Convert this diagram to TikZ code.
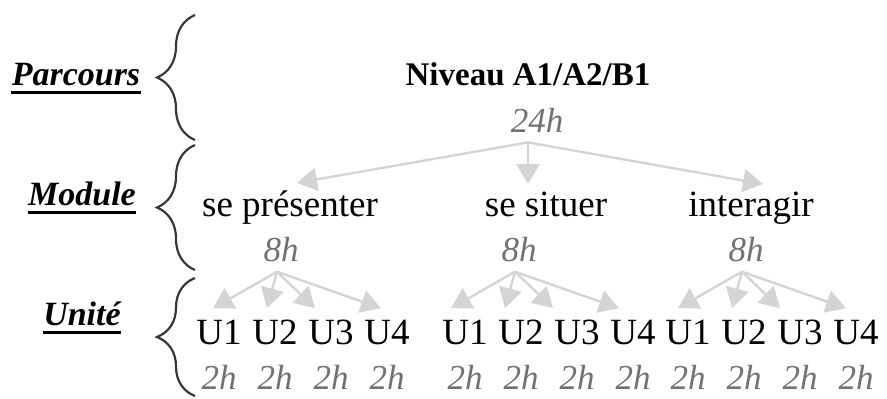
\documentclass[tikz,border=0pt]{standalone}
\usepackage{fontspec}
\setmainfont{Liberation Serif}
\usepackage{xcolor}
\usetikzlibrary{positioning,arrows.meta,decorations.pathreplacing}

\definecolor{hourgray}{RGB}{112,112,118}
\definecolor{arrowgray}{RGB}{212,212,212}
\definecolor{bracegray}{RGB}{55,55,55}

\begin{document}
\begin{tikzpicture}[
  x=0.5pt, y=-0.5pt,
  >={Triangle[length=10pt,width=11.5pt]},
  lvl/.style={anchor=base,inner sep=0pt,font=\fontsize{17}{20}\selectfont\bfseries\itshape},
  uline/.style={line width=1.5pt},
  curly/.style={decorate,decoration={brace,amplitude=19pt},draw=bracegray,line width=1.1pt},
  title/.style={anchor=base,font=\fontsize{16.5}{20}\selectfont\bfseries},
  modl/.style={anchor=base,inner xsep=0pt,inner ysep=3.5pt,font=\fontsize{18.5}{22}\selectfont},
  unit/.style={modl,inner ysep=5.5pt},
  hrs/.style={anchor=base,inner sep=5pt,text=hourgray,font=\fontsize{17.5}{21}\selectfont\itshape},
  arr/.style={->,draw=arrowgray,line width=1.2pt}
]
\useasboundingbox (0,0) rectangle (887,398);
% level names and braces
\node[lvl] (par) at (76,85) {Parcours};
\node[lvl] (mod) at (82,205) {Module};
\node[lvl] (uni) at (82,325) {Unité};
\foreach \n in {par,mod,uni}
  \draw[uline] ([yshift=-3.5pt]\n.base west) -- ([yshift=-3.5pt]\n.base east);
\draw[curly] (195,140) -- (195,15);
\draw[curly] (195,270) -- (195,145);
\draw[curly] (195,396) -- (195,278);
% tree
\node[title] (niv) at (528,85) {Niveau A1/A2/B1};
\node[hrs] (nivh) at (537,132) {24h};
\node[modl] (pres) at (290,216) {se présenter};
\node[modl] (sit) at (546,216) {se situer};
\node[modl] (inter) at (751,216) {interagir};
\draw[arr] ([xshift=-4.5pt]nivh.south) -- ([xshift=3.5pt]pres.north);
\draw[arr] ([xshift=-4.5pt]nivh.south) -- ([xshift=-9pt]sit.north);
\draw[arr] ([xshift=-4.5pt]nivh.south) -- ([xshift=6pt]inter.north);
\foreach \g/\hx/\ux in {pres/281/219, sit/519/465, inter/746/688} {
  \node[hrs] (\g h) at (\hx,261) {8h};
  \foreach \k/\d in {1/-64, 2/-10, 3/38, 4/104} {
    \pgfmathsetmacro\ex{\ux+56*(\k-1)}
    \pgfmathsetmacro\sh{(\hx-4+\d-\ex)/2}
    \node[unit] (\g\k) at (\ex,344) {U\k};
    \node[hrs] (\g\k h) at (\ex,389) {2h};
    \draw[arr] ([xshift=-2pt]\g h.south) -- ([xshift=\sh pt]\g\k.north);
  }
}
\end{tikzpicture}
\end{document}
